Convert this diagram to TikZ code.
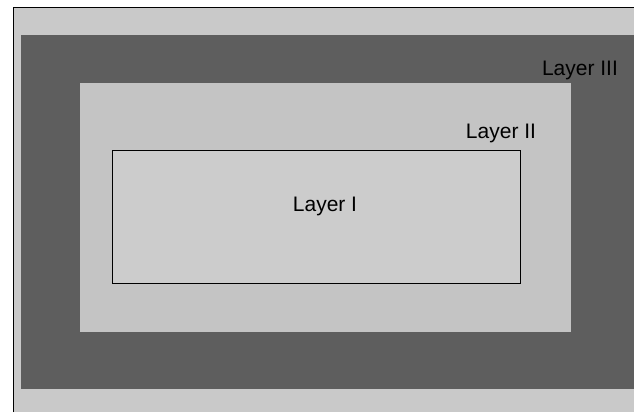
\documentclass[tikz,border=0pt]{standalone}
\usepackage{fontspec}
\setmainfont{Liberation Sans}
\usetikzlibrary{positioning}

\definecolor{hatter}{gray}{0.79}
\definecolor{sotet}{gray}{0.37}
\definecolor{vilagos}{gray}{0.77}
\definecolor{belso}{gray}{0.80}

\begin{document}
\begin{tikzpicture}[x=1pt, y=-1pt, every node/.style={font=\fontsize{21}{25}\selectfont, inner sep=0pt}]
        \useasboundingbox (0,0) rectangle (634,412);
        \fill[white] (0,0) rectangle (634,412);

        % background sheet
        \fill[hatter] (13,8) rectangle (634,412);
        \draw[line width=1pt] (13,412) -- (13,8) -- (634,8);

        % the three layers
        \fill[sotet] (21,35) rectangle (634,389);
        \fill[vilagos] (80,83) rectangle (571,332);
        \filldraw[fill=belso, draw=black, line width=0.6pt] (112,150) rectangle (520,283);

        \node (harmadik) at (580,70) {Layer III};
        \node (masodik) at (501,133) {Layer II};
        \node (elso) at (325,206) {Layer I};
    \end{tikzpicture}
\end{document}
